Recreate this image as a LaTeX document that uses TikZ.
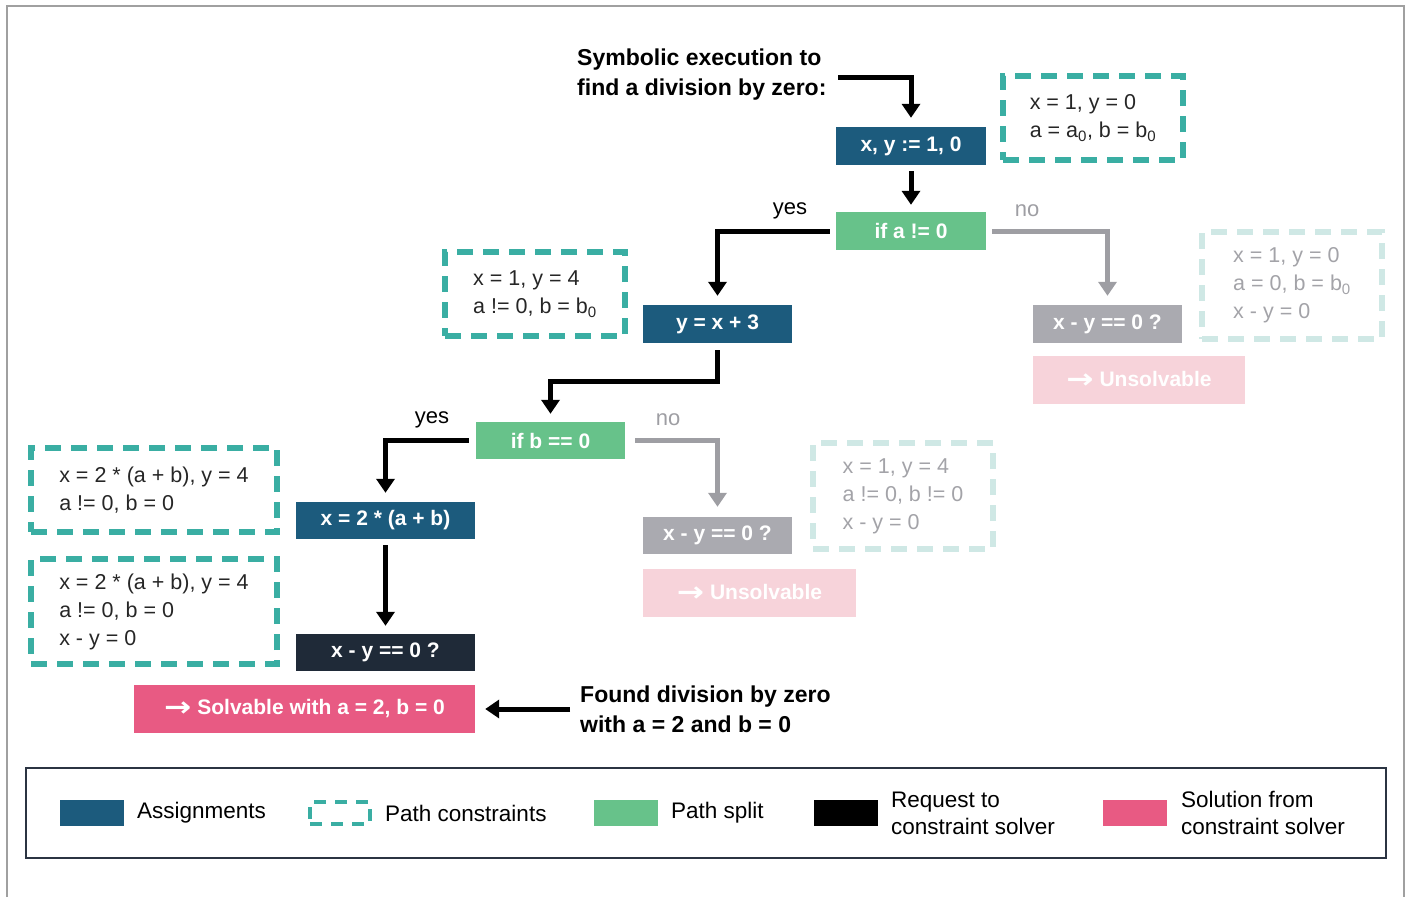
\documentclass[tikz,border=0pt]{standalone}
\usepackage{fontspec}
\usepackage{graphicx}
\setmainfont{Liberation Sans}
\newfontfamily\arrowfont{DejaVu Sans}
\usetikzlibrary{arrows.meta,calc}

\definecolor{assignblue}{HTML}{1C5B7D}
\definecolor{splitgreen}{HTML}{67C28A}
\definecolor{consteal}{HTML}{3AAEA3}
\definecolor{fadeteal}{HTML}{CFE8E5}
\definecolor{querydark}{HTML}{1F2A38}
\definecolor{solpink}{HTML}{E85A83}
\definecolor{fadepink}{HTML}{F7D3DA}
\definecolor{fadegraybox}{HTML}{AAAAB0}
\definecolor{fadearrow}{HTML}{9E9EA3}
\definecolor{fadetext}{HTML}{A3A3A8}
\definecolor{framegray}{HTML}{A0A0A0}
\definecolor{legendline}{HTML}{2B3442}

% long bold arrow used in the solver answers
\newcommand{\resultarrow}{{\arrowfont\bfseries\raisebox{-1.5pt}{\scalebox{1.55}[1.3]{→}}}}

\tikzset{
  box/.style={inner sep=0pt, minimum height=38pt, text=white,
    font=\fontsize{21}{24}\selectfont\bfseries},
  assign/.style={box, fill=assignblue},
  split/.style={box, fill=splitgreen},
  query/.style={box, fill=querydark},
  fadequery/.style={box, fill=fadegraybox},
  solution/.style={box, fill=solpink, minimum height=48pt},
  fadesol/.style={box, fill=fadepink, minimum height=48pt},
  cons/.style={draw=consteal, line width=5.5pt, dash pattern=on 16pt off 10pt,
    text=black!85, align=left, font=\fontsize{21.5}{28}\selectfont, inner sep=0pt},
  fadecons/.style={cons, draw=fadeteal, text=fadetext},
  flow/.style={line width=5pt, -{Triangle[width=18pt,length=14pt]}},
  fadeflow/.style={flow, draw=fadearrow, color=fadearrow},
  note/.style={font=\fontsize{23}{30}\selectfont\bfseries, align=left,
    anchor=west, inner sep=0pt},
  branch/.style={font=\fontsize{22}{24}\selectfont, inner sep=0pt},
  swatch/.style={minimum width=64pt, minimum height=26pt, inner sep=0pt},
  legendtext/.style={font=\fontsize{22.5}{27}\selectfont, align=left,
    anchor=west, inner sep=0pt}
}

\begin{document}
\begin{tikzpicture}[x=1pt,y=-1pt]
\useasboundingbox (0,0) rectangle (1411,897);

% page frame (open at the bottom)
\draw[framegray, line width=1.5pt] (7,897) -- (7,6) -- (1404,6) -- (1404,897);

% program steps
\node[assign, minimum width=150pt] (init) at (911,146) {x, y := 1, 0};
\node[split, minimum width=150pt] (ifa) at (911,231) {if a != 0};
\node[assign, minimum width=149pt] (yinc) at (717.5,324) {y = x + 3};
\node[fadequery, minimum width=149pt] (qright) at (1107.5,324) {x - y == 0 ?};
\node[fadesol, minimum width=212pt] (unsright) at (1139,380)
  {\resultarrow\ Unsolvable};
\node[split, minimum width=149pt, minimum height=37pt] (ifb) at (550.5,440.5) {if b == 0};
\node[assign, minimum width=179pt, minimum height=37pt] (xset) at (385.5,520.5) {x = 2 * (a + b)};
\node[fadequery, minimum width=149pt, minimum height=37pt] (qmid) at (717.5,535.5) {x - y == 0 ?};
\node[fadesol, minimum width=213pt] (unsmid) at (749.5,593)
  {\resultarrow\ Unsolvable};
\node[query, minimum width=179pt, minimum height=37pt] (qleft) at (385.5,652.5) {x - y == 0 ?};
\node[solution, minimum width=341pt] (sol) at (304.5,709)
  {\resultarrow\ Solvable with a = 2, b = 0};

% path constraints
\node[cons, minimum width=180pt, minimum height=84pt] (c0) at (1093,118)
  {x = 1, y = 0\\a = a\textsubscript{0}, b = b\textsubscript{0}};
\node[fadecons, minimum width=180pt, minimum height=107pt] (cright) at (1292,285.5)
  {x = 1, y = 0\\a = 0, b = b\textsubscript{0}\\x - y = 0};
\node[cons, minimum width=180pt, minimum height=84pt] (c1) at (535,294)
  {x = 1, y = 4\\a != 0, b = b\textsubscript{0}};
\node[fadecons, minimum width=180pt, minimum height=106pt] (cmid) at (903,496)
  {x = 1, y = 4\\a != 0, b != 0\\x - y = 0};
\node[cons, minimum width=246pt, minimum height=84pt] (c2) at (154,490)
  {x = 2 * (a + b), y = 4\\a != 0, b = 0};
\node[cons, minimum width=246pt, minimum height=105pt] (c3) at (154,611.5)
  {x = 2 * (a + b), y = 4\\a != 0, b = 0\\x - y = 0};

% notes
\node[note] (start) at (577,75) {Symbolic execution to\\find a division by zero:};
\node[note] (found) at (580,709) {Found division by zero\\with a = 2 and b = 0};

% branch labels
\node[branch] (yes1) at (790,211) {yes};
\node[branch, text=fadearrow] (no1) at (1027,211) {no};
\node[branch] (yes2) at (432,420) {yes};
\node[branch, text=fadearrow] (no2) at (668,420) {no};

% connectors
\draw[flow] (838,77) -| ([yshift=9pt]init.north);
\draw[flow] ([yshift=-6pt]init.south) -- ([yshift=7pt]ifa.north);
\draw[flow] ([xshift=-6pt]ifa.west) -| ([yshift=9pt]yinc.north);
\draw[fadeflow] ([xshift=6pt]ifa.east) -| ([yshift=9pt]qright.north);
\draw[flow] ([yshift=-7pt]yinc.south) -- ++(0,31) -| ([yshift=8pt]ifb.north);
\draw[flow] ([xshift=-7pt]ifb.west) -| ([yshift=9pt]xset.north);
\draw[fadeflow] ([xshift=10pt]ifb.east) -| ([yshift=10pt]qmid.north);
\draw[flow] ([yshift=-6pt]xset.south) -- ([yshift=8pt]qleft.north);
\draw[flow] ([xshift=-10pt]found.west) -- ([xshift=10pt]sol.east);

% legend
\node[draw=legendline, line width=2.5pt, minimum width=1360pt, minimum height=90pt,
  inner sep=0pt] (legend) at (706,813) {};
\node[swatch, fill=assignblue] (lg1) at (92,813) {};
\node[legendtext] (lt1) at (137,813) {Assignments};
\node[swatch, draw=consteal, line width=4pt, dash pattern=on 12pt off 9pt,
  minimum width=60pt, minimum height=22pt] (lg2) at (340,813) {};
\node[legendtext] (lt2) at (385,813) {Path constraints};
\node[swatch, fill=splitgreen] (lg3) at (626,813) {};
\node[legendtext] (lt3) at (671,813) {Path split};
\node[swatch, fill=black] (lg4) at (846,813) {};
\node[legendtext] (lt4) at (891,813) {Request to\\constraint solver};
\node[swatch, fill=solpink] (lg5) at (1135,813) {};
\node[legendtext] (lt5) at (1181,813) {Solution from\\constraint solver};
\end{tikzpicture}
\end{document}
